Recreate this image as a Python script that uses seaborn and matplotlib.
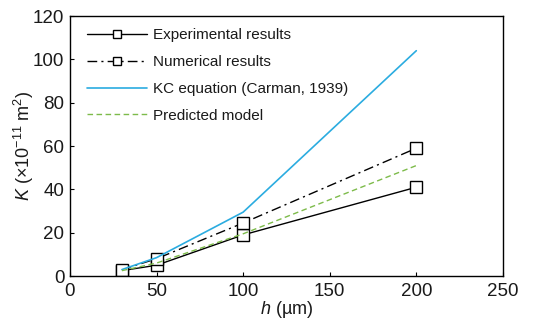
import numpy as np
import pandas as pd
import matplotlib
matplotlib.use("Agg")
import matplotlib.pyplot as plt
import seaborn as sns

# Data
h = [30, 50, 100, 200]
experimental = [2.5, 5.0, 19.0, 41.0]
numerical = [3.0, 8.0, 24.5, 59.0]
kc_equation = [3.0, 8.5, 29.5, 104.0]
predicted = [2.5, 6.0, 19.5, 51.0]

sns.set_theme(style="white")
plt.rcParams["font.family"] = ["Liberation Sans", "DejaVu Sans"]
plt.rcParams["mathtext.fontset"] = "custom"
plt.rcParams["mathtext.it"] = "Liberation Sans:italic"
plt.rcParams["mathtext.rm"] = "Liberation Sans"
plt.rcParams["text.color"] = "#1a1a1a"

fig = plt.figure(figsize=(5.49, 3.21), dpi=100)
ax = fig.add_axes([0.1275, 0.140, 0.7885, 0.810])

sq = dict(marker="s", markersize=9, markerfacecolor="white",
          markeredgecolor="black", markeredgewidth=1.0)

sns.lineplot(x=h, y=experimental, ax=ax, color="black", lw=1.0,
             label="Experimental results", **sq)
sns.lineplot(x=h, y=numerical, ax=ax, color="black", lw=1.0,
             linestyle=(0, (7, 3, 1.5, 3)), label="Numerical results", **sq)
sns.lineplot(x=h, y=kc_equation, ax=ax, color="#2bace0", lw=1.2,
             label="KC equation (Carman, 1939)")
sns.lineplot(x=h, y=predicted, ax=ax, color="#7dbb4a", lw=1.0,
             linestyle=(0, (4, 2.5)), label="Predicted model")

ax.set_xlim(0, 250)
ax.set_ylim(0, 120)
ax.set_xticks([0, 50, 100, 150, 200, 250])
ax.set_yticks([0, 20, 40, 60, 80, 100, 120])
ax.tick_params(direction="in", length=3, width=0.8, labelsize=13.5,
               colors="black", labelcolor="#1a1a1a")
ax.tick_params(axis="x", top=False, bottom=True, pad=5)
ax.tick_params(axis="y", left=True, right=False, pad=4)
for s in ax.spines.values():
    s.set_color("black")
    s.set_linewidth(1.0)

ax.set_xlabel(r"$h$ (µm)", fontsize=13, labelpad=-1, color="#1a1a1a")
ax.set_ylabel(r"$K$ ($\times$10$^{-11}$ m$^{2}$)", fontsize=13, labelpad=-2,
              color="#1a1a1a")

leg = ax.legend(loc="upper left", bbox_to_anchor=(0.026, 0.978),
                frameon=False, fontsize=11, markerscale=0.6,
                handlelength=3.9, handletextpad=0.4,
                labelspacing=0.85, borderaxespad=0.0)

fig.savefig("out.png", dpi=100)
